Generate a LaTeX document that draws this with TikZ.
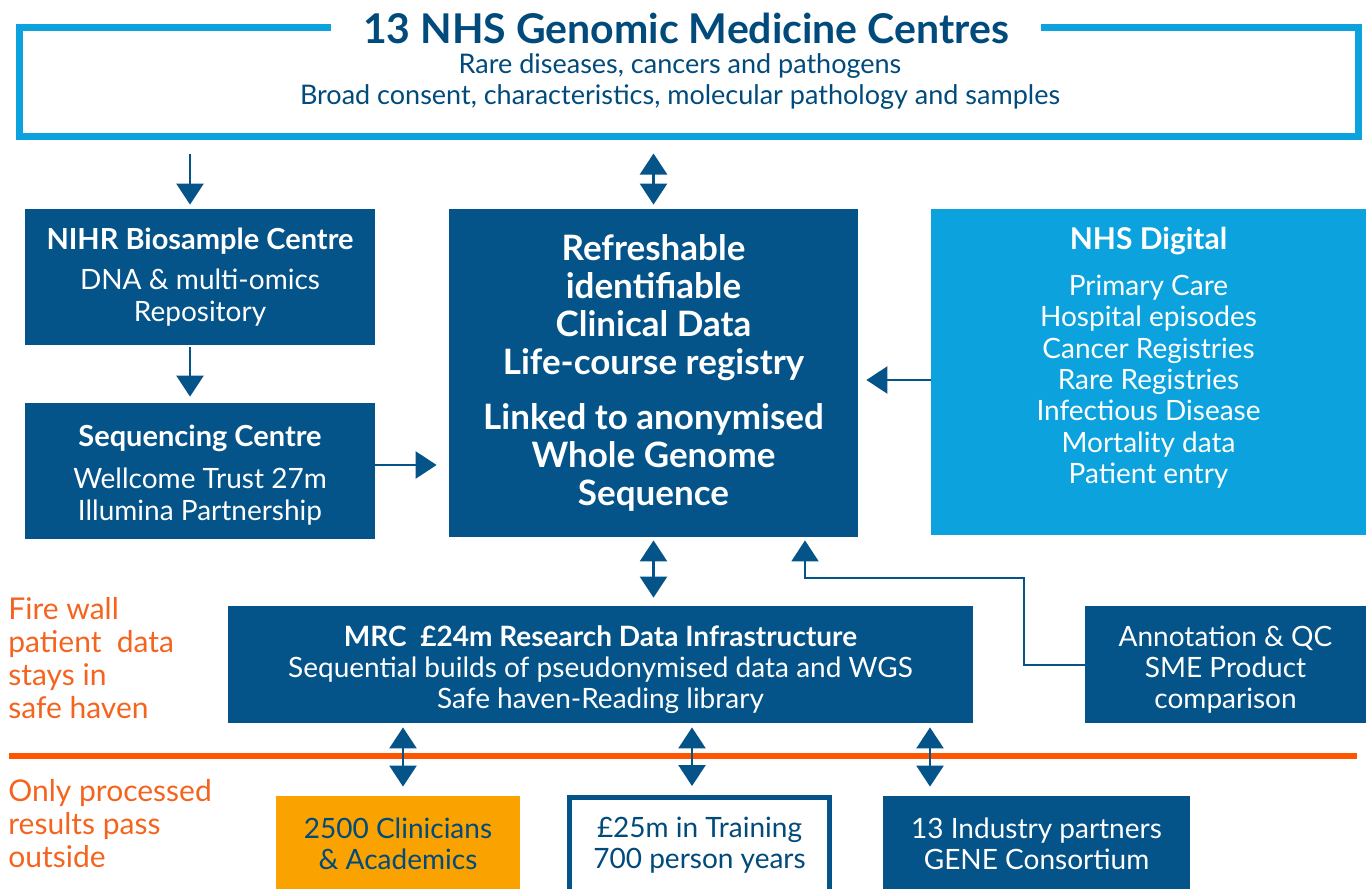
\documentclass[tikz,border=0pt]{standalone}
\usepackage{fontspec}
\setmainfont{Lato}
\usetikzlibrary{arrows.meta}
\definecolor{nhsdark}{RGB}{4,83,137}
\definecolor{nhslight}{RGB}{11,162,222}
\definecolor{titleblue}{RGB}{0,74,124}
\definecolor{fireorange}{RGB}{245,100,30}
\definecolor{lineorange}{RGB}{255,85,0}
\definecolor{clinorange}{RGB}{250,162,0}
\begin{document}
\begin{tikzpicture}[x=0.5pt,y=-0.5pt,
    darkbox/.style={fill=nhsdark,text=white,align=center,inner sep=0pt,
                    font=\fontsize{14}{16}\selectfont},
    boxtext/.style={text=white,align=center,inner sep=0pt,
                    font=\fontsize{14}{15.6}\selectfont},
    arr/.style={draw=nhsdark,line width=1.25pt,
                -{Triangle[width=13.5pt,length=10.5pt]}},
    dblarr/.style={arr,{Triangle[width=13.5pt,length=10.5pt]}-{Triangle[width=13.5pt,length=10.5pt]}},
    firetext/.style={text=fireorange,align=left,anchor=west,inner sep=0pt,
                     font=\fontsize{15}{16.5}\selectfont}]
    \useasboundingbox (0,0) rectangle (1368,888);

    % top: genomic medicine centres
    \node[draw=nhslight,line width=3.5pt,inner sep=0pt,
          minimum width=669.5pt,minimum height=54.25pt] (gmc) at (689,82.25) {};
    \node[fill=white,text=titleblue,inner xsep=16pt,inner ysep=2pt,
          font=\bfseries\fontsize{20.5}{22}\selectfont] (gmctitle) at (686,28)
        {13 NHS Genomic Medicine Centres};
    \node[text=titleblue,align=center,font=\fontsize{13.5}{15.5}\selectfont] (gmcsub) at (680,82)
        {Rare diseases, cancers and pathogens\\Broad consent, characteristics, molecular pathology and samples};

    % left column
    \node[darkbox,minimum width=175pt,minimum height=68pt] (nihr) at (200,277)
        {\textbf{\fontsize{14.5}{16}\selectfont NIHR Biosample Centre}\\[4pt]DNA \& multi-omics\\Repository};
    \node[darkbox,minimum width=175pt,minimum height=68pt] (seq) at (200,471) {};
    \node[boxtext] (seqtxt) at ([yshift=-2pt]seq.center)
        {\textbf{\fontsize{14.5}{16}\selectfont Sequencing Centre}\\[5.5pt]Wellcome Trust 27m\\Illumina Partnership};

    % centre
    \node[darkbox,minimum width=204.5pt,minimum height=164pt,
          font=\bfseries\fontsize{17.5}{19}\selectfont] (central) at (653.5,373)
        {Refreshable\\identifiable\\Clinical Data\\Life-course registry\\[8.5pt]%
         Linked to anonymised\\Whole Genome\\Sequence};

    % right: nhs digital
    \node[fill=nhslight,inner sep=0pt,minimum width=217.5pt,minimum height=163pt] (digital) at (1148.5,372) {};
    \node[boxtext,font=\fontsize{14}{15.7}\selectfont] (digitaltxt) at ([yshift=7pt]digital.center)
        {\textbf{\fontsize{15}{16}\selectfont NHS Digital}\\[7pt]Primary Care\\Hospital episodes\\Cancer Registries\\%
         Rare Registries\\Infectious Disease\\Mortality data\\Patient entry};

    % research infrastructure
    \node[darkbox,minimum width=372.5pt,minimum height=58.5pt] (mrc) at (600.5,664.5) {};
    \node[boxtext] (mrctxt) at ([yshift=-2.5pt]mrc.center)
        {\textbf{MRC\ \ £24m Research Data Infrastructure}\\Sequential builds of pseudonymised data and WGS\\%
         Safe haven-Reading library};
    \node[darkbox,minimum width=140.5pt,minimum height=58.5pt] (annot) at (1225.5,664.5) {};
    \node[boxtext] (annottxt) at ([yshift=-2.5pt]annot.center) {Annotation \& QC\\SME Product\\comparison};

    % fire wall
    \node[firetext] (firewall) at (8,658.5) {Fire wall\\patient\ \ data\\stays in\\safe haven};
    \node[firetext] (onlyproc) at (8,824) {Only processed\\results pass\\outside};
    \draw[lineorange,line width=3pt] (9,756) -- (1357,756);

    % outside
    \node[fill=clinorange,text=titleblue,align=center,inner sep=0pt,font=\fontsize{14}{15.5}\selectfont,
          minimum width=122pt,minimum height=47.5pt] (clin) at (398,843.5)
        {2500 Clinicians\\\& Academics};
    \node[draw=nhsdark,line width=2.5pt,fill=white,text=titleblue,align=center,inner sep=0pt,
          font=\fontsize{14}{15.5}\selectfont,minimum width=130pt,minimum height=47.5pt] (train) at (699.5,845)
        {£25m in Training\\700 person years};
    \node[darkbox,font=\fontsize{14}{15.5}\selectfont,minimum width=153.5pt,minimum height=47.5pt] (ind) at (1036.5,843.5)
        {13 Industry partners\\GENE Consortium};

    % connectors
    \draw[arr,shorten <=6.75pt,shorten >=2pt] ([xshift=-5pt]nihr.north |- gmc.south) -- ([xshift=-5pt]nihr.north);
    \draw[dblarr,shorten <=6.75pt,shorten >=2pt] (central.north |- gmc.south) -- (central.north);
    \draw[arr,shorten <=1pt,shorten >=3pt] ([xshift=-5pt]nihr.south) -- ([xshift=-5pt]seq.north);
    \draw[arr,shorten >=6pt] ([yshift=3pt]seq.east) -- ([yshift=3pt]seq.east -| central.west);
    \draw[arr,shorten >=4pt] ([yshift=-4pt]digital.west) -- ([yshift=-4pt]digital.west -| central.east);
    \draw[dblarr,shorten <=1.5pt,shorten >=4pt] (central.south) -- (central.south |- mrc.north);
    \coordinate (bend) at (1024,578);
    \draw[arr,line width=1pt,shorten >=1.5pt] (annot.west) -| (bend) -| ([xshift=75.75pt]central.south);
    \foreach \x/\b in {403/clin,692/train,930/ind}
        \draw[dblarr,shorten <=2pt,shorten >=4.5pt] (\x,0 |- mrc.south) -- (\x,0 |- \b.north);
\end{tikzpicture}
\end{document}
